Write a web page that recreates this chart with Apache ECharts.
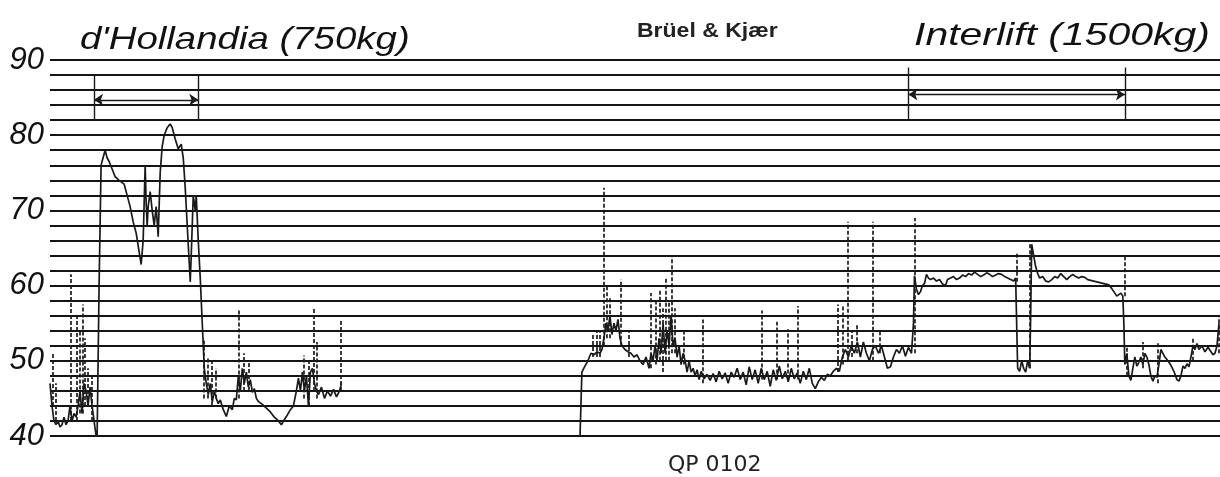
<!DOCTYPE html>
<html>
<head>
<meta charset="utf-8">
<script src="https://cdn.jsdelivr.net/npm/echarts@6/dist/echarts.min.js"></script>
<style>
  html, body { margin: 0; padding: 0; background: #fff; }
  #chart { width: 1220px; height: 477px; }
</style>
</head>
<body>
<div id="chart"></div>
<script>
// level recorder strip, dB vs. time (time in chart-paper units)
var yTicks = [40, 50, 60, 70, 80, 90];

// d'Hollandia run [t, dB]
var traceA = [
  [52, 47], [54, 44], [56, 42], [58, 41.5], [60, 42], [62, 41.2], [64, 41.5], [66, 42.5], [68, 41.5], [70, 42],
  [72, 44], [74, 42], [76, 43], [78, 42.5], [80, 44], [82, 46], [84, 43], [86, 47], [88, 46], [90, 44],
  [92, 46.5], [94, 44], [96, 42], [98, 40], [99, 39.5], [101, 60], [103, 76], [105, 77], [107, 78], [109, 77],
  [111, 76.5], [114, 75.5], [117, 74.5], [121, 74], [126, 73.5], [129, 72], [132, 70.5], [135, 68.5], [138, 67], [141, 64.5],
  [143, 62.8], [145, 66], [147, 76], [148, 71], [149, 68], [150, 70.5], [152, 72.5], [154, 70], [156, 68], [158, 70.5],
  [160, 66.5], [162, 75], [164, 78.5], [166, 80], [169, 81], [172, 81.5], [174, 81], [177, 79.5], [180, 78.2], [183, 78.8],
  [185, 77], [187, 73], [189, 68], [191, 63], [192, 60.5], [193, 64], [195, 72], [197, 70], [198, 72], [200, 66],
  [202, 61], [204, 55], [206, 49], [208, 47], [210, 45.5], [212, 47], [214, 44.5], [216, 46], [218, 45], [220, 44.3],
  [222, 44.8], [225, 43.5], [228, 42.6], [231, 44], [234, 43.5], [236, 45], [238, 44.8], [240, 48], [242, 46], [244, 49],
  [246, 47], [248, 48.5], [250, 46.5], [252, 47.5], [254, 45.8], [256, 46.3], [258, 45], [260, 44.6], [264, 44.2], [268, 43.7],
  [272, 43.2], [276, 42.5], [280, 42], [283, 41.5], [286, 42.2], [289, 42.8], [292, 43.5], [295, 44], [298, 46], [300, 47.7],
  [302, 46], [304, 48.5], [306, 46], [308, 48], [310, 44], [312, 48.5], [314, 49], [316, 47], [318, 46], [320, 45.5],
  [323, 46.5], [326, 45], [329, 46], [332, 45.3], [335, 46.2], [338, 45.2], [341, 46], [343, 47]
];

// background + Interlift run [t, dB]
var traceB = [
  [581, 39.5], [583, 48.5], [586, 49.3], [589, 50], [592, 51], [595, 50.8], [598, 51.2], [601, 51], [603, 51.5], [605, 53],
  [607, 55], [609, 54], [611, 56], [613, 53.5], [615, 55], [617, 54], [619, 55.5], [621, 53], [623, 52], [626, 51.5],
  [629, 51.2], [632, 51], [635, 50.5], [638, 50.8], [641, 50], [644, 49.5], [647, 50.5], [650, 49], [652, 51], [654, 50],
  [656, 52], [658, 50], [660, 53], [662, 51], [664, 55], [666, 51], [668, 54], [670, 52], [672, 56], [674, 52],
  [676, 53], [678, 50.5], [680, 52], [682, 49.5], [684, 51], [686, 50], [688, 48.5], [690, 50], [692, 48.5], [694, 49],
  [696, 48], [698, 48.8], [700, 47.5], [702, 48.6], [705, 47.6], [708, 48.2], [711, 47.4], [714, 48.3], [717, 47.2], [720, 48.6],
  [723, 47.6], [726, 48.4], [729, 47], [732, 48.5], [735, 47.8], [738, 49], [741, 47.5], [744, 48.5], [747, 46.8], [750, 49.2],
  [753, 47.5], [756, 48.8], [759, 47], [762, 49], [765, 47.5], [768, 48.6], [771, 46.6], [774, 48.8], [777, 47.4], [780, 49.3],
  [783, 47.6], [786, 48.6], [789, 47.2], [792, 49], [795, 47.6], [798, 48.4], [801, 47], [804, 48.6], [807, 47.5], [810, 49],
  [813, 47], [816, 46.3], [819, 47.2], [822, 47.8], [825, 47.4], [828, 48.2], [831, 48], [834, 48.6], [837, 49], [840, 48.6],
  [843, 50.5], [846, 51.5], [849, 50.5], [852, 52], [855, 51], [858, 52.5], [861, 50.5], [864, 52.5], [867, 51], [870, 50],
  [873, 51.5], [876, 52], [879, 51], [882, 52], [885, 50.5], [888, 49], [891, 49.2], [894, 50.5], [897, 51.5], [900, 51],
  [903, 52], [906, 50.6], [909, 51.8], [912, 51], [914, 55], [915, 61.3], [917, 59.5], [919, 58.8], [921, 59.2], [923, 60],
  [925, 60.3], [927, 61.5], [929, 61], [931, 60.8], [934, 61], [937, 60.6], [940, 60.8], [943, 60.2], [946, 60], [948, 60.8],
  [951, 61], [954, 61.2], [957, 60.8], [960, 61], [963, 61.4], [966, 61.2], [969, 61.6], [972, 61.4], [975, 61.8], [978, 61.5],
  [981, 61.2], [984, 61.4], [987, 61.7], [990, 61.5], [993, 61.2], [996, 61.4], [999, 61.6], [1002, 61.5], [1005, 61.2], [1008, 61],
  [1011, 60.8], [1014, 60.6], [1016, 61], [1017, 55], [1018, 49], [1020, 48.6], [1022, 50], [1024, 49], [1026, 48.5], [1028, 50],
  [1030, 49], [1031, 56], [1032, 65.5], [1034, 64], [1036, 62.5], [1038, 61.6], [1040, 61], [1043, 61.2], [1046, 60.6], [1049, 60.5],
  [1052, 60.8], [1055, 61.2], [1058, 61], [1061, 61.6], [1064, 61.2], [1067, 60.8], [1070, 61.2], [1073, 61.5], [1076, 61.2], [1079, 61],
  [1082, 61.2], [1085, 61.1], [1088, 60.8], [1091, 60.7], [1094, 60.6], [1097, 60.5], [1100, 60.4], [1103, 60.3], [1106, 60.2], [1109, 60.1],
  [1112, 59.6], [1115, 59], [1117, 58.6], [1119, 58.8], [1121, 59], [1123, 58.6], [1124, 55], [1125, 49.5], [1127, 51], [1129, 48],
  [1131, 47.4], [1133, 49], [1135, 50.5], [1137, 49.3], [1139, 49.8], [1141, 50.5], [1143, 49.5], [1145, 51], [1147, 50.5], [1149, 49.5],
  [1151, 48], [1153, 47.3], [1155, 48], [1157, 47.8], [1159, 49.5], [1161, 51.5], [1163, 51], [1165, 50.5], [1168, 50], [1171, 49.4],
  [1174, 48.6], [1177, 47.5], [1179, 47.3], [1181, 48], [1183, 49.3], [1185, 49], [1187, 49.6], [1189, 49.2], [1191, 50.5], [1193, 52],
  [1195, 51.5], [1197, 52.3], [1199, 51.5], [1202, 52], [1205, 51.2], [1208, 51.8], [1211, 51.2], [1213, 50.8], [1215, 51], [1217, 52],
  [1219, 55]
];

// fast pen excursions [t, low dB, high dB]
var spikes = [
  [55, 44, 51], [58, 42, 47], [73, 42, 61.5], [79, 42, 56], [82, 43, 54], [85, 43, 57.5], [87, 44, 53], [90, 44, 49], [94, 42, 48],
  [205, 45, 53], [209, 45, 50.5], [213, 44, 50], [217, 45, 49], [240, 45, 56.7], [245, 46, 51], [250, 46, 50],
  [305, 45, 50.7], [310, 44, 50], [315, 46, 57], [318, 45, 52.5], [342, 46, 55.4],
  [594, 50.5, 53.5], [598, 50.5, 54], [601, 50.5, 53.8], [605, 52, 73], [608, 53, 60], [611, 53, 58.5], [622, 52, 60.8],
  [630, 50.5, 53.8], [652, 49, 59], [657, 49.5, 58], [661, 50, 59.5], [664, 48.5, 57], [667, 50, 61], [670, 50, 58],
  [673, 51, 64], [676, 51, 57], [685, 49.5, 54], [704, 47, 55.5], [763, 47.5, 56.7], [778, 47.5, 55.2], [788, 47.5, 54.2],
  [798, 47.5, 57.3], [838, 48.5, 57.5], [843, 49.5, 57.5], [848, 50, 68.5], [852, 50.5, 54], [857, 51, 55], [873, 50, 68.5],
  [880, 51, 54], [915, 51, 69], [1017, 60.5, 64.5], [1030, 49, 65.5], [1125, 58.6, 64],
  [1127, 48, 52], [1143, 49, 52.5], [1158, 47, 52.5], [1193, 50, 53], [1219, 51, 56]
];

// test spans marked on the strip [start, end, arrow dB, tick top, tick bottom]
var hollandiaSpan = [96, 200, 84.7, 88, 82];
var interliftSpan = [909, 1125, 85.4, 89, 82];

function spanLines(s) {
  return [
    { coords: [[s[0], s[2]], [s[1], s[2]]], symbol: ['arrow', 'arrow'] },
    { coords: [[s[0], s[3]], [s[0], s[4]]] },
    { coords: [[s[1], s[3]], [s[1], s[4]]] }
  ];
}

var chart = echarts.init(document.getElementById('chart'));
var hand = { fontFamily: 'Liberation Sans', fontStyle: 'italic', fill: '#111' };

chart.setOption({
  backgroundColor: '#fff',
  animation: false,
  grid: { left: 50, right: 0, top: 60, bottom: 41 },
  xAxis: {
    type: 'value', min: 52, max: 1220,
    axisLine: { show: false }, axisTick: { show: false },
    axisLabel: { show: false }, splitLine: { show: false }
  },
  yAxis: {
    type: 'value', min: 40, max: 90, interval: 2,
    axisLine: { show: false }, axisTick: { show: false },
    axisLabel: {
      margin: 6, fontSize: 31, fontFamily: 'Liberation Sans', fontStyle: 'italic', color: '#111',
      formatter: function (v) { return yTicks.indexOf(v) >= 0 ? String(v) : ''; }
    },
    splitLine: { lineStyle: { color: '#141414', width: 2 } }
  },
  graphic: [
    { type: 'text', x: 80, y: 24, scaleX: 1.2, style: Object.assign({ text: "d'Hollandia (750kg)", fontSize: 32 }, hand) },
    { type: 'text', x: 914, y: 20, scaleX: 1.28, style: Object.assign({ text: 'Interlift (1500kg)', fontSize: 32 }, hand) },
    { type: 'text', x: 637, y: 21, scaleX: 1.15, style: { text: 'Brüel & Kjær', fontSize: 20, fontWeight: 'bold', fontFamily: 'Liberation Sans', fill: '#222' } },
    { type: 'text', x: 668, y: 454, style: { text: 'QP 0102', fontSize: 22, fontFamily: 'DejaVu Sans', fill: '#222' } }
  ],
  series: [
    {
      type: 'line', data: traceA, showSymbol: false, symbol: 'none',
      lineStyle: { color: '#1a1a1a', width: 1.7 }
    },
    {
      type: 'line', data: traceB, showSymbol: false, symbol: 'none',
      lineStyle: { color: '#1a1a1a', width: 1.7 }
    },
    {
      type: 'lines', coordinateSystem: 'cartesian2d', silent: true,
      data: spikes.map(function (s) { return { coords: [[s[0], s[1]], [s[0], s[2]]] }; }),
      lineStyle: { color: '#1a1a1a', width: 1.7, type: [4, 2], opacity: 1 }
    },
    {
      type: 'lines', coordinateSystem: 'cartesian2d', silent: true,
      symbol: ['none', 'none'], symbolSize: 9,
      data: spanLines(hollandiaSpan).concat(spanLines(interliftSpan)),
      lineStyle: { color: '#1a1a1a', width: 1.4, opacity: 1 }
    }
  ]
});
</script>
</body>
</html>
